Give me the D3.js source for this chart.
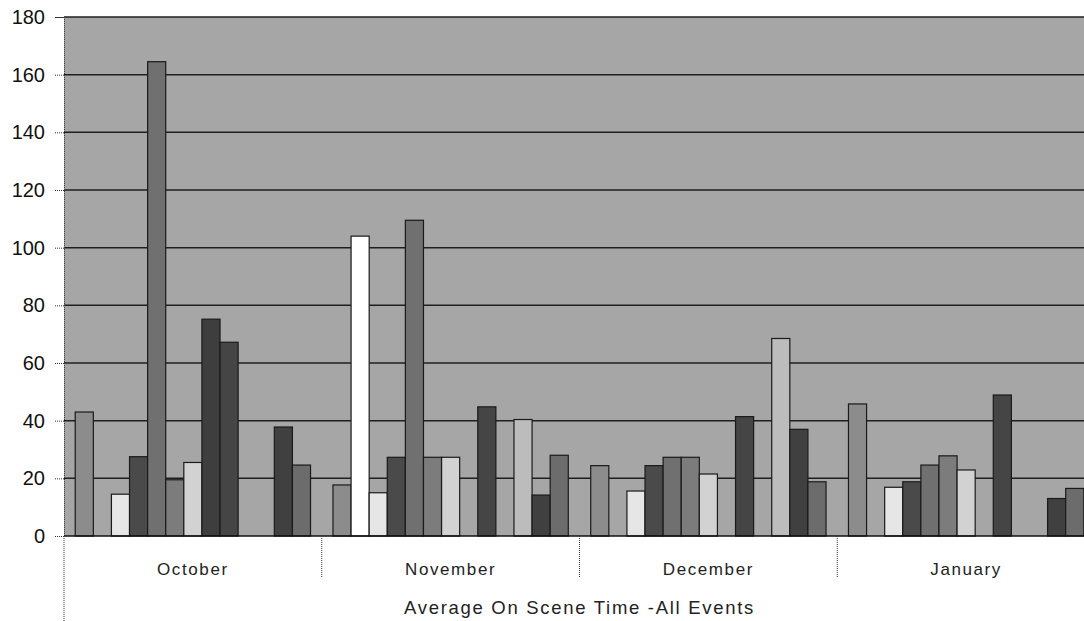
<!DOCTYPE html>
<html>
<head>
<meta charset="utf-8">
<script src="https://cdn.jsdelivr.net/npm/d3@7"></script>
<style>
  body { margin: 0; background: #fff; }
  svg { display: block; font-family: Arial, "Liberation Sans", sans-serif; }
</style>
</head>
<body>
<svg id="chart" width="1084" height="621"></svg>
<script>
// months along the category axis
const months = ['October', 'November', 'December', 'January'];

// one value per series (13 series, no legend in the source)
const october  = [43, 0, 14.5, 27.5, 164.5, 19.5, 25.5, 75.2, 67.2, 0, 0, 37.8, 24.6];
const november = [17.7, 104, 15, 27.3, 109.5, 27.3, 27.3, 0, 44.8, 0, 40.4, 14.2, 28];
const december = [24.4, 0, 15.6, 24.4, 27.3, 27.3, 21.5, 0, 41.4, 0, 68.5, 37, 18.8];
const january  = [45.8, 0, 16.9, 18.8, 24.6, 27.8, 22.9, 0, 48.9, 0, 0, 13, 16.5];

const yTicks = [0, 20, 40, 60, 80, 100, 120, 140, 160, 180];
const axisTitle = 'Average On Scene Time -All Events';

const seriesFill = ['#8c8c8c', '#ffffff', '#e6e6e6', '#4a4a4a', '#707070', '#7c7c7c',
                    '#d2d2d2', '#3e3e3e', '#454545', '#999999', '#bcbcbc', '#404040', '#6c6c6c'];

const monthValues = [october, november, december, january];
const rows = months.map((m, i) => ({ month: m, values: monthValues[i] }));

const svg = d3.select('#chart');
const plot = { left: 64, right: 1095, top: 17, bottom: 536 };

const x0 = d3.scaleBand()
    .domain(months)
    .range([plot.left, plot.right])
    .padding(0);

const x1 = d3.scaleBand()
    .domain(d3.range(october.length))
    .range([0, x0.bandwidth()])
    .paddingInner(0)
    .paddingOuter(0.62);

const y = d3.scaleLinear()
    .domain([0, 180])
    .range([plot.bottom, plot.top]);

// plot background
svg.append('rect')
    .attr('x', plot.left)
    .attr('y', plot.top)
    .attr('width', plot.right - plot.left)
    .attr('height', plot.bottom - plot.top)
    .attr('fill', '#a6a6a6');

// grid lines
svg.append('g')
    .selectAll('line')
    .data(yTicks.filter(d => d > 0))
    .join('line')
    .attr('x1', plot.left)
    .attr('x2', plot.right)
    .attr('y1', d => y(d))
    .attr('y2', d => y(d))
    .attr('stroke', '#1f1f1f')
    .attr('stroke-width', 1.5);

// bars
svg.append('g')
    .selectAll('g')
    .data(rows)
    .join('g')
    .attr('transform', d => `translate(${x0(d.month)},0)`)
    .selectAll('rect')
    .data(d => d.values.map((v, i) => ({ i, v })).filter(d => d.v > 0))
    .join('rect')
    .attr('x', d => x1(d.i))
    .attr('y', d => y(d.v))
    .attr('width', x1.bandwidth())
    .attr('height', d => y(0) - y(d.v))
    .attr('fill', d => seriesFill[d.i])
    .attr('stroke', '#1a1a1a')
    .attr('stroke-width', 1.2);

// value axis
const yAxis = svg.append('g')
    .attr('transform', `translate(${plot.left},0)`)
    .call(d3.axisLeft(y).tickValues(yTicks).tickSize(9).tickPadding(10).tickFormat(d => d));
yAxis.select('.domain')
    .attr('stroke', '#333')
    .attr('stroke-dasharray', '1,1');
yAxis.selectAll('.tick line')
    .attr('stroke', '#333')
    .attr('stroke-dasharray', '1,1');
yAxis.selectAll('.tick text')
    .attr('font-size', 20)
    .attr('fill', '#111');

// zero line
svg.append('line')
    .attr('x1', plot.left)
    .attr('x2', plot.right)
    .attr('y1', y(0))
    .attr('y2', y(0))
    .attr('stroke', '#111')
    .attr('stroke-width', 1.5);

// category separators
svg.append('g')
    .selectAll('line')
    .data(months)
    .join('line')
    .attr('x1', d => x0(d))
    .attr('x2', d => x0(d))
    .attr('y1', y(0))
    .attr('y2', (d, i) => i === 0 ? 621 : 578)
    .attr('stroke', '#333')
    .attr('stroke-dasharray', '1,1');
svg.append('line')
    .attr('x1', plot.right)
    .attr('x2', plot.right)
    .attr('y1', y(0))
    .attr('y2', 578)
    .attr('stroke', '#333')
    .attr('stroke-dasharray', '1,1');

// month labels
svg.append('g')
    .selectAll('text')
    .data(months)
    .join('text')
    .attr('x', d => x0(d) + x0.bandwidth() / 2)
    .attr('y', 575)
    .attr('text-anchor', 'middle')
    .attr('font-size', 17)
    .attr('letter-spacing', 1.6)
    .attr('fill', '#222')
    .text(d => d);

svg.append('text')
    .attr('x', (plot.left + plot.right) / 2)
    .attr('y', 614)
    .attr('text-anchor', 'middle')
    .attr('font-size', 18.5)
    .attr('letter-spacing', 1.7)
    .attr('fill', '#222')
    .text(axisTitle);
</script>
</body>
</html>
